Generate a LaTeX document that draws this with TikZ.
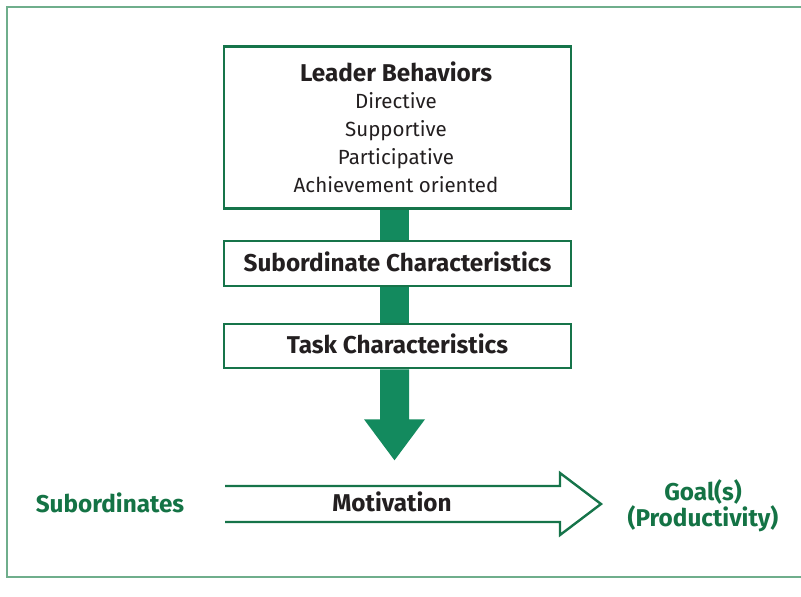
\documentclass[tikz,border=0pt]{standalone}
\usepackage{fontspec}
\setmainfont{Fira Sans}
\usetikzlibrary{backgrounds}
\definecolor{framegreen}{HTML}{6FAE8C}
\definecolor{boxgreen}{HTML}{16744A}
\definecolor{arrowgreen}{HTML}{138A5E}
\definecolor{textgreen}{HTML}{147345}
\definecolor{textdark}{HTML}{231F20}
\begin{document}
\begin{tikzpicture}[x=1pt,y=-1pt,
  box/.style={draw=boxgreen, line width=2.6pt, fill=white, inner sep=0pt},
  boldtxt/.style={font=\fontsize{24.3}{26}\selectfont\bfseries, text=textdark, anchor=base, inner sep=0pt},
  regtxt/.style={font=\fontsize{20.5}{22}\selectfont, text=textdark, anchor=base, inner sep=0pt},
  greentxt/.style={font=\fontsize{24.3}{26}\selectfont\bfseries, text=textgreen, anchor=base, inner sep=0pt},
  flow/.style={fill=arrowgreen},
  motarrow/.style={draw=boxgreen, line width=2.4pt, line join=miter}]
\useasboundingbox (0,0) rectangle (801,597);
\draw[framegreen, line width=2pt] (801,7) -- (7,7) -- (7,577) -- (801,577);
\node[box, minimum width=347, minimum height=162] (lb) at (397.5,127.5) {};
\node[box, minimum width=347, minimum height=45] (sc) at (397.5,263.5) {};
\node[box, minimum width=347, minimum height=44] (tc) at (397.5,346) {};
\begin{scope}[on background layer]
\fill[flow] ([xshift=-17.5pt]lb.south) rectangle ([xshift=11.5pt]sc.north);
\fill[flow] ([xshift=-17.5pt]sc.south) rectangle ([xshift=11.5pt]tc.north);
\fill[flow] ([xshift=-17.5pt]tc.south) -- ([xshift=-17.5pt,yshift=-50pt]tc.south)
  -- ([xshift=-33.5pt,yshift=-50pt]tc.south) -- ([xshift=-3pt,yshift=-91pt]tc.south)
  -- ([xshift=27.5pt,yshift=-50pt]tc.south) -- ([xshift=11.5pt,yshift=-50pt]tc.south)
  -- ([xshift=11.5pt]tc.south) -- cycle;
\end{scope}
% texts
\node[boldtxt] (t1) at (396,81) {Leader Behaviors};
\node[regtxt] (t2) at (396,108) {Directive};
\node[regtxt] (t3) at (396,136) {Supportive};
\node[regtxt] (t4) at (396,164) {Participative};
\node[regtxt] (t5) at (396,192) {Achievement oriented};
\node[boldtxt] (t6) at (397.5,271) {Subordinate Characteristics};
\node[boldtxt] (t7) at (397.5,353) {Task Characteristics};
% motivation arrow
\coordinate (m1) at (225,486);
\coordinate (m2) at (560,486);
\coordinate (m3) at (560,473);
\coordinate (m4) at (601,504);
\coordinate (m5) at (560,535);
\coordinate (m6) at (560,522);
\coordinate (m7) at (225,522);
\draw[motarrow] (m1) -- (m2) -- (m3) -- (m4) -- (m5) -- (m6) -- (m7);
\node[boldtxt] (mot) at (392,511) {Motivation};
\node[greentxt] (sub) at (110,512) {Subordinates};
\node[greentxt] (g1) at (703,500) {Goal(s)};
\node[greentxt] (g2) at (703,526) {(Productivity)};
\end{tikzpicture}
\end{document}
